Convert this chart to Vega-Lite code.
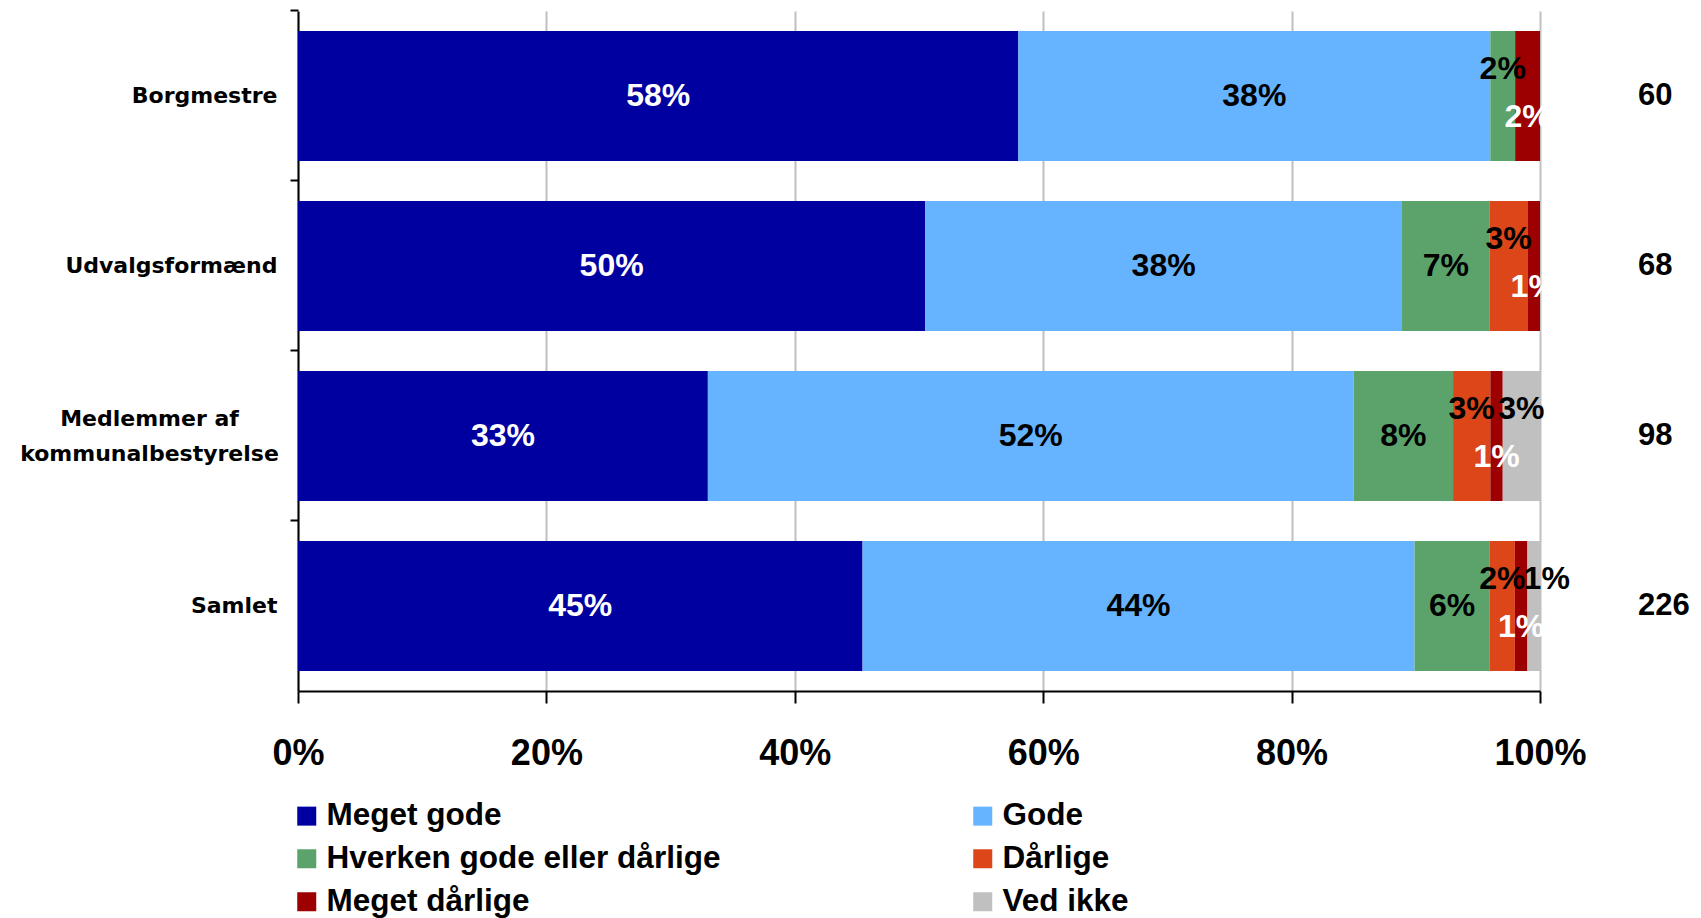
{
  "$schema": "https://vega.github.io/schema/vega-lite/v6.json",
  "width": 1242,
  "height": 680,
  "autosize": "none",
  "padding": {"left": 298, "top": 11, "right": 161, "bottom": 227},
  "background": "white",
  "config": {"view": {"stroke": null}, "font": "Liberation Sans"},
  "datasets": {
    "shares": [
      {"group": "Borgmestre", "cat": "Meget gode", "k": 1, "share": 0.58},
      {"group": "Borgmestre", "cat": "Gode", "k": 2, "share": 0.38},
      {"group": "Borgmestre", "cat": "Hverken gode eller dårlige", "k": 3, "share": 0.02},
      {"group": "Borgmestre", "cat": "Meget dårlige", "k": 5, "share": 0.02},
      {"group": "Udvalgsformænd", "cat": "Meget gode", "k": 1, "share": 0.50},
      {"group": "Udvalgsformænd", "cat": "Gode", "k": 2, "share": 0.38},
      {"group": "Udvalgsformænd", "cat": "Hverken gode eller dårlige", "k": 3, "share": 0.07},
      {"group": "Udvalgsformænd", "cat": "Dårlige", "k": 4, "share": 0.03},
      {"group": "Udvalgsformænd", "cat": "Meget dårlige", "k": 5, "share": 0.01},
      {"group": "Medlemmer af kommunalbestyrelse", "cat": "Meget gode", "k": 1, "share": 0.33},
      {"group": "Medlemmer af kommunalbestyrelse", "cat": "Gode", "k": 2, "share": 0.52},
      {"group": "Medlemmer af kommunalbestyrelse", "cat": "Hverken gode eller dårlige", "k": 3, "share": 0.08},
      {"group": "Medlemmer af kommunalbestyrelse", "cat": "Dårlige", "k": 4, "share": 0.03},
      {"group": "Medlemmer af kommunalbestyrelse", "cat": "Meget dårlige", "k": 5, "share": 0.01},
      {"group": "Medlemmer af kommunalbestyrelse", "cat": "Ved ikke", "k": 6, "share": 0.03},
      {"group": "Samlet", "cat": "Meget gode", "k": 1, "share": 0.45},
      {"group": "Samlet", "cat": "Gode", "k": 2, "share": 0.44},
      {"group": "Samlet", "cat": "Hverken gode eller dårlige", "k": 3, "share": 0.06},
      {"group": "Samlet", "cat": "Dårlige", "k": 4, "share": 0.02},
      {"group": "Samlet", "cat": "Meget dårlige", "k": 5, "share": 0.01},
      {"group": "Samlet", "cat": "Ved ikke", "k": 6, "share": 0.01}
    ],
    "counts": [
      {"group": "Borgmestre", "n": 60},
      {"group": "Udvalgsformænd", "n": 68},
      {"group": "Medlemmer af kommunalbestyrelse", "n": 98},
      {"group": "Samlet", "n": 226}
    ]
  },
  "data": {"name": "shares"},
  "encoding": {
    "y": {
      "field": "group",
      "type": "nominal",
      "sort": ["Borgmestre", "Udvalgsformænd", "Medlemmer af kommunalbestyrelse", "Samlet"],
      "scale": {"paddingInner": 0.235, "paddingOuter": 0.1175},
      "axis": {
        "title": null,
        "bandPosition": -0.154,
        "domainColor": "black",
        "domainWidth": 2,
        "tickColor": "black",
        "tickWidth": 2,
        "tickSize": 8,
        "labelPadding": {"condition": {"test": "datum.value == 'Medlemmer af kommunalbestyrelse'", "value": 141}, "value": 13},
        "labelAlign": {"condition": {"test": "datum.value == 'Medlemmer af kommunalbestyrelse'", "value": "center"}, "value": "right"},
        "labelOffset": {"condition": {"test": "datum.value == 'Medlemmer af kommunalbestyrelse'", "value": -17}, "value": 0},
        "labelFont": "DejaVu Sans",
        "labelFontSize": 22,
        "labelFontWeight": "bold",
        "labelColor": "black",
        "labelLineHeight": 35,
        "labelLimit": 400,
        "labelExpr": "datum.value == 'Medlemmer af kommunalbestyrelse' ? ['Medlemmer af', 'kommunalbestyrelse'] : datum.value"
      }
    }
  },
  "layer": [
    {
      "mark": {"type": "bar"},
      "encoding": {
        "x": {
          "field": "share",
          "type": "quantitative",
          "stack": "normalize",
          "scale": {"domain": [0, 1]},
          "axis": {
            "title": null,
            "values": [0, 0.2, 0.4, 0.6, 0.8, 1],
            "format": ".0%",
            "grid": true,
            "gridColor": "#c0c0c0",
            "gridWidth": 2,
            "domainColor": "black",
            "domainWidth": 2,
            "tickColor": "black",
            "tickWidth": 2,
            "tickSize": 12,
            "labelPadding": 33,
            "labelFont": "Liberation Sans",
            "labelFontSize": 36,
            "labelFontWeight": "bold",
            "labelColor": "black",
            "labelFlush": false
          }
        },
        "color": {
          "field": "cat",
          "type": "nominal",
          "scale": {
            "domain": ["Meget gode", "Gode", "Hverken gode eller dårlige", "Dårlige", "Meget dårlige", "Ved ikke"],
            "range": ["#0000A0", "#66B3FF", "#5BA36A", "#DC4618", "#9C0000", "#C0C0C0"]
          },
          "legend": {
            "title": null,
            "orient": "none",
            "legendX": -7,
            "legendY": 789,
            "direction": "horizontal",
            "columns": 2,
            "gridAlign": "each",
            "columnPadding": 246,
            "rowPadding": 10,
            "symbolType": "square",
            "symbolSize": 361,
            "symbolStrokeWidth": 0,
            "labelFont": "Liberation Sans",
            "labelFontSize": 31.5,
            "labelFontWeight": "bold",
            "labelColor": "black",
            "labelOffset": 4,
            "labelLimit": 600
          }
        },
        "order": {"field": "k"}
      }
    },
    {
      "mark": {"type": "text", "font": "Liberation Sans", "fontSize": 32, "fontWeight": "bold"},
      "encoding": {
        "x": {"field": "share", "type": "quantitative", "stack": "normalize", "bandPosition": 0.5},
        "detail": {"field": "cat"},
        "order": {"field": "k"},
        "text": {"condition": {"test": "datum.share >= 0.05", "field": "share", "type": "quantitative", "format": ".0%"}, "value": ""},
        "color": {"condition": {"test": "datum.cat === 'Meget gode' || datum.cat === 'Meget dårlige'", "value": "white"}, "value": "black"}
      }
    },
    {
      "mark": {"type": "text", "font": "Liberation Sans", "fontSize": 32, "fontWeight": "bold", "dy": -27},
      "encoding": {
        "x": {"field": "share", "type": "quantitative", "stack": "normalize", "bandPosition": 0.5},
        "detail": {"field": "cat"},
        "order": {"field": "k"},
        "text": {"condition": {"test": "datum.share < 0.05 && datum.cat !== 'Meget dårlige' && !(datum.cat === 'Ved ikke' && datum.share < 0.02)", "field": "share", "type": "quantitative", "format": ".0%"}, "value": ""},
        "color": {"value": "black"}
      }
    },
    {
      "mark": {"type": "text", "font": "Liberation Sans", "fontSize": 32, "fontWeight": "bold", "dy": -27, "dx": 13},
      "encoding": {
        "x": {"field": "share", "type": "quantitative", "stack": "normalize", "bandPosition": 0.5},
        "detail": {"field": "cat"},
        "order": {"field": "k"},
        "text": {"condition": {"test": "datum.cat === 'Ved ikke' && datum.share < 0.02", "field": "share", "type": "quantitative", "format": ".0%"}, "value": ""},
        "color": {"value": "black"}
      }
    },
    {
      "mark": {"type": "text", "font": "Liberation Sans", "fontSize": 32, "fontWeight": "bold", "dy": 21},
      "encoding": {
        "x": {"field": "share", "type": "quantitative", "stack": "normalize", "bandPosition": 0.5},
        "detail": {"field": "cat"},
        "order": {"field": "k"},
        "text": {"condition": {"test": "datum.cat === 'Meget dårlige'", "field": "share", "type": "quantitative", "format": ".0%"}, "value": ""},
        "color": {"value": "white"}
      }
    },
    {
      "data": {"name": "counts"},
      "mark": {"type": "text", "align": "left", "font": "Liberation Sans", "fontSize": 31, "fontWeight": "bold", "color": "black"},
      "encoding": {
        "x": {"datum": 1.079, "type": "quantitative"},
        "text": {"field": "n", "type": "quantitative"}
      }
    }
  ]
}
